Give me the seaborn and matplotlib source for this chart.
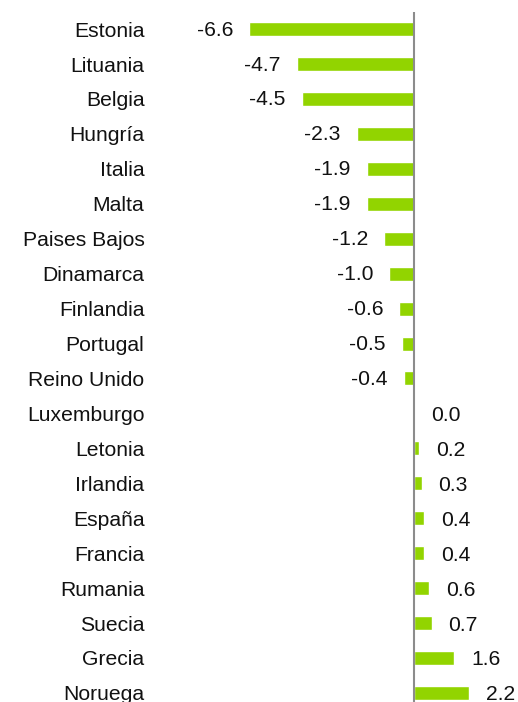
import matplotlib
import matplotlib.pyplot as plt
import pandas as pd
import seaborn as sns

matplotlib.use("Agg")

countries = ["Estonia", "Lituania", "Belgia", "Hungría", "Italia", "Malta",
             "Paises Bajos", "Dinamarca", "Finlandia", "Portugal", "Reino Unido",
             "Luxemburgo", "Letonia", "Irlandia", "España", "Francia", "Rumania",
             "Suecia", "Grecia", "Noruega"]
values = [-6.6, -4.7, -4.5, -2.3, -1.9, -1.9, -1.2, -1.0, -0.6, -0.5, -0.4,
          0.0, 0.2, 0.3, 0.4, 0.4, 0.6, 0.7, 1.6, 2.2]

df = pd.DataFrame({"country": countries, "value": values})

sns.set_style("white")
plt.rcParams["font.family"] = ["Liberation Sans", "DejaVu Sans"]

W, H = 518, 702
fig = plt.figure(figsize=(W / 100, H / 100), dpi=100)
# axes placed in pixel terms
left, right, top, bottom = 150, 518, 12, 702
ax = fig.add_axes([left / W, 1 - bottom / H, (right - left) / W, (bottom - top) / H])

sns.barplot(data=df, x="value", y="country", orient="h", color="#92D400",
            saturation=1, width=0.4, ax=ax)

ax.set_xlim(-10.56, 4.16)
ax.set_ylim(19.26, -0.49)
ax.axvline(0, color="#8c8c8c", lw=1.5, zorder=3)

for s in ax.spines.values():
    s.set_visible(False)
ax.set_xticks([])
ax.set_xlabel("")
ax.set_ylabel("")
fs = 15.2
ax.tick_params(axis="y", length=0, pad=4, labelsize=fs, labelcolor="#111111")

for i, v in enumerate(values):
    if v < 0:
        ax.annotate(f"{v:.1f}", (v, i), xytext=(-16, -1), textcoords="offset pixels",
                    ha="right", va="center", fontsize=fs, color="#111111")
    else:
        ax.annotate(f"{v:.1f}", (v, i), xytext=(17, -2), textcoords="offset pixels",
                    ha="left", va="center", fontsize=fs, color="#111111")

fig.savefig("out.png", dpi=100)
